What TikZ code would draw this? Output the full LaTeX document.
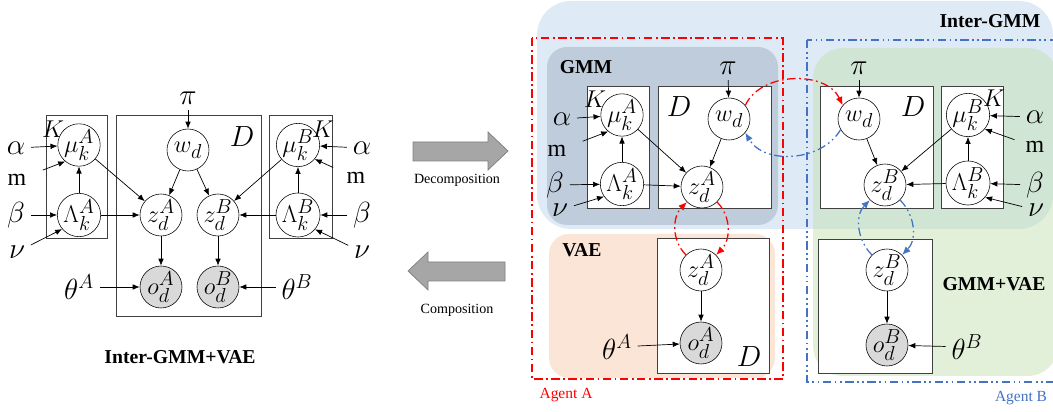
\documentclass[tikz,border=0pt]{standalone}
\usepackage{fontspec}
\setmainfont{Liberation Serif}
\usetikzlibrary{arrows.meta}
\DeclareMathSizes{19}{19}{15}{11}
\DeclareMathSizes{20}{20}{15}{11}
\definecolor{interblue}{RGB}{222,235,247}
\definecolor{gmmgray}{RGB}{190,204,219}
\definecolor{vaepeach}{RGB}{251,229,214}
\definecolor{mixgreen}{RGB}{197,225,179}
\definecolor{obsgray}{RGB}{217,217,217}
\definecolor{plategray}{RGB}{64,64,64}
\definecolor{agentred}{RGB}{255,0,0}
\definecolor{agentblue}{RGB}{68,114,196}
\definecolor{bigarrowfill}{RGB}{166,166,166}
\definecolor{bigarrowline}{RGB}{127,127,127}
\begin{document}
\begin{tikzpicture}[
    x=0.025cm, y=-0.025cm,
    every node/.style={font=\fontsize{20}{22}\selectfont},
    var/.style={circle, draw, fill=white, minimum size=1.05cm, inner sep=0pt, font=\fontsize{19}{21}\selectfont},
    obs/.style={var, fill=obsgray},
    param/.style={inner sep=4pt},
    mtxt/.style={param, font=\fontsize{17}{19}\selectfont},
    platelabel/.style={inner sep=1pt, font=\fontsize{18}{20}\selectfont},
    plate/.style={draw=plategray, fill=white, line width=0.6pt},
    arr/.style={-{Latex[length=5pt,width=4pt]}, line width=0.5pt},
    titulo/.style={font=\fontsize{14}{16}\selectfont\bfseries},
    reddash/.style={draw=agentred, line width=1.1pt, dash pattern=on 6pt off 2.5pt on 1.2pt off 2.5pt},
    bluedash/.style={draw=agentblue, line width=1.1pt, dash pattern=on 6pt off 2.5pt on 1.2pt off 2.5pt on 1.2pt off 2.5pt},
    redlink/.style={reddash, line width=0.9pt, -{Latex[length=6pt,width=5pt]}},
    bluelink/.style={bluedash, line width=0.9pt, -{Latex[length=6pt,width=5pt]}}
]
\useasboundingbox (0,0) rectangle (1053,412);
% Inter-GMM+VAE (left)
\draw[plate, fill=none] (46,115) rectangle (107,238);
\draw[plate, fill=none] (116,115) rectangle (261,316);
\draw[plate, fill=none] (269,115) rectangle (332,238);
\node[var] (muAL) at (79,145) {$\mu_k^A$};
\node[var] (LamAL) at (79,215) {$\Lambda_k^A$};
\node[var] (wL) at (188,150) {$w_d$};
\node[var] (zAL) at (161,215) {$z_d^A$};
\node[var] (zBL) at (218,215) {$z_d^B$};
\node[var] (muBL) at (298,145) {$\mu_k^B$};
\node[var] (LamBL) at (298,215) {$\Lambda_k^B$};
\node[obs] (oAL) at (161,287) {$o_d^A$};
\node[obs] (oBL) at (218,287) {$o_d^B$};
\node[platelabel] (KAL) at (53,129) {$K$};
\node[platelabel] (KBL) at (323,129) {$K$};
\node (DL) at (242,137) {$D$};
\node[param] (piL) at (188,98) {$\pi$};
\node[param] (alphaAL) at (16,148) {$\alpha$};
\node[mtxt] (mAL) at (17,180) {m};
\node[param] (betaAL) at (16,215) {$\beta$};
\node[param] (nuAL) at (17,252) {$\nu$};
\node[param] (thetaAL) at (79,287) {$\theta^A$};
\node[param] (alphaBL) at (362,148) {$\alpha$};
\node[mtxt] (mBL) at (356,178) {m};
\node[param] (betaBL) at (362,215) {$\beta$};
\node[param] (nuBL) at (362,252) {$\nu$};
\node[param] (thetaBL) at (297,287) {$\theta^B$};
\node[titulo] (tituloL) at (180,357) {Inter-GMM+VAE};
\draw[arr] (piL) -- (wL);
\draw[arr] (wL) -- (zAL);
\draw[arr] (wL) -- (zBL);
\draw[arr] (muAL) -- (zAL);
\draw[arr] (LamAL) -- (zAL);
\draw[arr] (LamAL) -- (muAL);
\draw[arr] (muBL) -- (zBL);
\draw[arr] (LamBL) -- (zBL);
\draw[arr] (LamBL) -- (muBL);
\draw[arr] (zAL) -- (oAL);
\draw[arr] (zBL) -- (oBL);
\draw[arr] (thetaAL) -- (oAL);
\draw[arr] (thetaBL) -- (oBL);
\draw[arr] (alphaAL) -- (muAL);
\draw[arr, shorten <=8pt] (mAL) -- (muAL.230);
\draw[arr] (betaAL) -- (LamAL);
\draw[arr] (nuAL) -- (LamAL.220);
\draw[arr] (alphaBL) -- (muBL);
\draw[arr, shorten <=6pt] (mBL) -- (muBL.320);
\draw[arr] (betaBL) -- (LamBL);
\draw[arr] (nuBL) -- (LamBL.320);
% Flechas
\filldraw[fill=bigarrowfill, draw=bigarrowline, line width=0.5pt]
    (413,142) -- (488,142) -- (488,132) -- (508,151) -- (488,170) -- (488,161) -- (413,161) -- cycle;
\filldraw[fill=bigarrowfill, draw=bigarrowline, line width=0.5pt]
    (505,262) -- (428,262) -- (428,252) -- (408,271) -- (428,290) -- (428,281) -- (505,281) -- cycle;
\node[font=\fontsize{10}{12}\selectfont] (decomp) at (457,180) {Decomposition};
\node[font=\fontsize{10}{12}\selectfont] (comp) at (457,310) {Composition};
% Regiones
\fill[interblue, rounded corners=0.85cm] (537,1) rectangle (1053,229);
\fill[gmmgray, rounded corners=0.5cm] (547,47) rectangle (778,225);
\fill[vaepeach, rounded corners=0.5cm] (549,234) rectangle (775,378);
\fill[mixgreen, fill opacity=0.5, rounded corners=0.75cm] (813,48) rectangle (1058,376);
\node[titulo] (interT) at (990,21) {Inter-GMM};
\node[titulo] (gmmT) at (586,67) {GMM};
\node[titulo] (vaeT) at (582,250) {VAE};
\node[titulo] (gmmvaeT) at (994,284) {GMM+VAE};
% Agente A: GMM
\draw[plate] (587,86) rectangle (649,208);
\draw[plate] (658,86) rectangle (771,208);
\node[var] (muA) at (622,115) {$\mu_k^A$};
\node[var] (LamA) at (622,184) {$\Lambda_k^A$};
\node[var] (wA) at (729,119) {$w_d$};
\node[var] (zGA) at (702,187) {$z_d^A$};
\node[platelabel] (KA) at (595,99) {$K$};
\node (DA) at (679,107) {$D$};
\node[param] (piA) at (728,68) {$\pi$};
\node[param] (alphaA) at (562,119) {$\alpha$};
\node[mtxt] (mA) at (557,151) {m};
\node[param] (betaA) at (555,185) {$\beta$};
\node[param] (nuA) at (560,210) {$\nu$};
\draw[arr] (piA) -- (wA);
\draw[arr] (wA) -- (zGA);
\draw[arr] (muA) -- (zGA);
\draw[arr] (LamA) -- (zGA);
\draw[arr] (LamA) -- (muA);
\draw[arr] (alphaA) -- (muA);
\draw[arr, shorten <=8pt] (mA) -- (muA.230);
\draw[arr] (betaA) -- (LamA);
\draw[arr] (nuA) -- (LamA.215);
% Agente A: VAE
\draw[plate] (657,238) rectangle (769,373);
\node[var] (zVA) at (701,270) {$z_d^A$};
\node[obs] (oVA) at (701,343) {$o_d^A$};
\node (DVA) at (749,357) {$D$};
\node[param] (thetaA) at (617,347) {$\theta^A$};
\draw[arr] (zVA) -- (oVA);
\draw[arr] (thetaA) -- (oVA);
% Agente B: GMM
\draw[plate] (820,86) rectangle (933,208);
\draw[plate] (941,86) rectangle (1003,208);
\node[var] (wB) at (859,119) {$w_d$};
\node[var] (zGB) at (885,185) {$z_d^B$};
\node[var] (muB) at (968,115) {$\mu_k^B$};
\node[var] (LamB) at (968,183) {$\Lambda_k^B$};
\node[platelabel] (KB) at (994,98) {$K$};
\node (DB) at (913,107) {$D$};
\node[param] (piB) at (859,68) {$\pi$};
\node[param] (alphaB) at (1035,117) {$\alpha$};
\node[mtxt] (mB) at (1035,147) {m};
\node[param] (betaB) at (1035,185) {$\beta$};
\node[param] (nuB) at (1036,210) {$\nu$};
\draw[arr] (piB) -- (wB);
\draw[arr] (wB) -- (zGB);
\draw[arr] (muB) -- (zGB);
\draw[arr] (LamB) -- (zGB);
\draw[arr] (LamB) -- (muB);
\draw[arr] (alphaB) -- (muB);
\draw[arr, shorten <=4pt] (mB) -- (muB.320);
\draw[arr] (betaB) -- (LamB);
\draw[arr] (nuB) -- (LamB.320);
% Agente B: GMM+VAE
\draw[plate] (818,239) rectangle (932,373);
\node[var] (zVB) at (887,270) {$z_d^B$};
\node[obs] (oVB) at (887,345) {$o_d^B$};
\node[param] (thetaB) at (967,347) {$\theta^B$};
\draw[arr] (zVB) -- (oVB);
\draw[arr] (thetaB) -- (oVB);
% Agentes
\draw[reddash] (532,38) rectangle (783,379);
\draw[bluedash] (807,40) rectangle (1060,382);
\node[text=agentred, font=\fontsize{11}{13}\selectfont] (agentA) at (566,395) {Agent A};
\node[text=agentblue, font=\fontsize{11}{13}\selectfont] (agentB) at (1021,398) {Agent B};
% Intercambio
\draw[redlink] (wA.40) to[out=65, in=115] (wB.140);
\draw[bluelink] (wB.210) to[out=240, in=300] (wA.320);
\draw[redlink] (zVA.135) to[out=135, in=225] (zGA.225);
\draw[redlink] (zGA.315) to[out=315, in=45] (zVA.45);
\draw[bluelink] (zVB.135) to[out=135, in=225] (zGB.225);
\draw[bluelink] (zGB.315) to[out=315, in=45] (zVB.45);
\end{tikzpicture}
\end{document}
